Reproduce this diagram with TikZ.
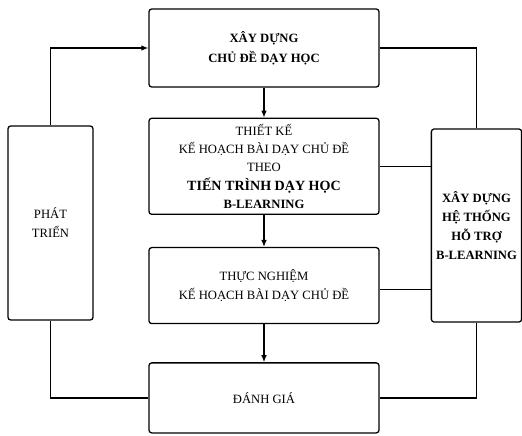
\documentclass[tikz,border=0pt]{standalone}
\usepackage{fontspec}
\setmainfont{Liberation Serif}
\usetikzlibrary{arrows.meta,positioning}

\begin{document}
\begin{tikzpicture}[x=0.025cm,y=-0.025cm,
    box/.style={draw,line width=0.9pt,rounded corners=2pt,align=center,inner ysep=1pt,
        font=\fontsize{9}{13.5}\selectfont},
    link/.style={line width=0.9pt},
    flow/.style={link,-{Latex[length=5pt,width=4pt]}}]
    \useasboundingbox (0,0) rectangle (522,436);
    % main chain
    \node[box,minimum width=5.75cm,minimum height=1.95cm,
        font=\fontsize{9}{14.5}\selectfont\bfseries] (build) at (264,48)
        {XÂY DỰNG\\CHỦ ĐỀ DẠY HỌC};
    \node[box,minimum width=5.75cm,minimum height=2.4cm,below=0.75cm of build,
        font=\fontsize{9}{13}\selectfont] (design)
        {THIẾT KẾ\\KẾ HOẠCH BÀI DẠY CHỦ ĐỀ\\THEO\\
         \textbf{\fontsize{10}{13}\selectfont TIẾN TRÌNH DẠY HỌC}\\
         \textbf{B-LEARNING}};
    \node[box,minimum width=5.75cm,minimum height=1.9cm,below=0.8cm of design] (trial)
        {THỰC NGHIỆM\\KẾ HOẠCH BÀI DẠY CHỦ ĐỀ};
    \node[box,minimum width=5.75cm,minimum height=1.75cm,below=0.95cm of trial] (evaluate)
        {ĐÁNH GIÁ};
    % side boxes
    \node[box,minimum width=2.125cm,minimum height=4.85cm] (develop) at (50.5,223)
        {PHÁT\\TRIỂN};
    \node[box,minimum width=2.175cm,minimum height=4.825cm,font=\fontsize{9}{13.5}\selectfont\bfseries]
        (support) at (476.5,225.5) {XÂY DỰNG\\HỆ THỐNG\\HỖ TRỢ\\B-LEARNING};
    % connectors
    \draw[flow] (build) -- (design);
    \draw[flow] (design) -- (trial);
    \draw[flow] (trial) -- (evaluate);
    \draw[flow] (develop.north) |- (build.west);
    \draw[link] (develop.south) |- (evaluate.west);
    \draw[link] (build.east) -| (support.north);
    \draw[link] (support.south) |- (evaluate.east);
    \draw[link] (design.east) -- (design.east -| support.west);
    \draw[link] ([yshift=-0.1cm]trial.east) -- ([yshift=-0.1cm]trial.east -| support.west);
\end{tikzpicture}
\end{document}
